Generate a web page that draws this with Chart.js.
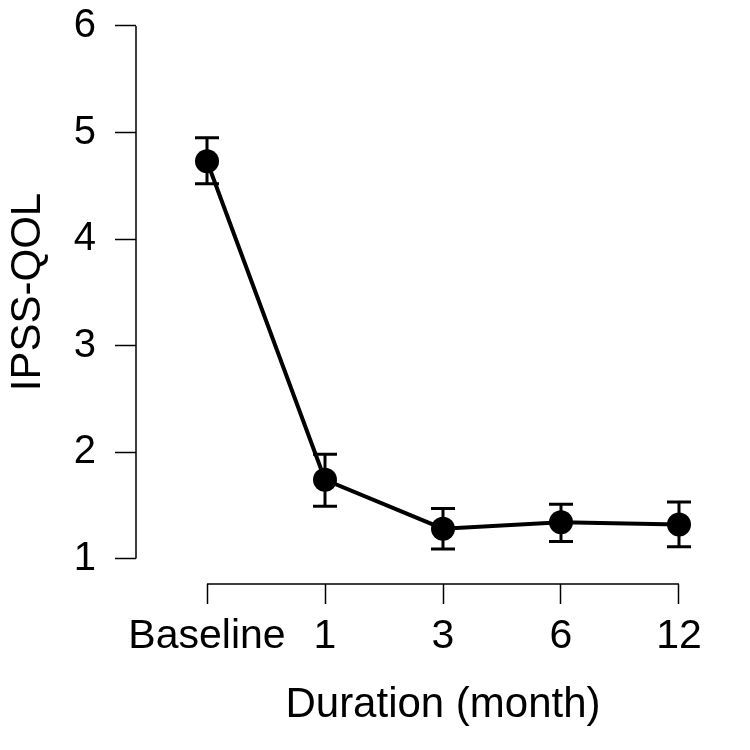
<!DOCTYPE html>
<html>
<head>
<meta charset="utf-8">
<script src="https://cdn.jsdelivr.net/npm/chart.js@4/dist/chart.umd.min.js"></script>
<style>
html, body { margin: 0; padding: 0; background: #fff; overflow: hidden; }
#wrap { width: 750px; height: 750px; position: relative; }
</style>
</head>
<body>
<div id="wrap"><canvas id="c"></canvas></div>
<script>
// ---- data ----
const categories = ["Baseline", "1", "3", "6", "12"];
const meanValues = [4.73, 1.74, 1.28, 1.34, 1.32];
const upperValues = [4.95, 1.98, 1.47, 1.51, 1.53];
const lowerValues = [4.52, 1.49, 1.09, 1.16, 1.11];
const yTickValues = [1, 2, 3, 4, 5, 6];
const yTitle = "IPSS-QOL";
const xTitle = "Duration (month)";

const FONT = "'Liberation Sans', Arial, Helvetica, sans-serif";

const errorBarPlugin = {
  id: 'errorBars',
  beforeDatasetsDraw(chart) {
    const ctx = chart.ctx;
    const xs = chart.scales.x, ys = chart.scales.y;
    ctx.save();
    ctx.strokeStyle = '#000';
    ctx.lineWidth = 3;
    ctx.lineCap = 'butt';
    const cap = 12;
    categories.forEach((c, i) => {
      const x = xs.getPixelForValue(i);
      const yt = ys.getPixelForValue(upperValues[i]);
      const yb = ys.getPixelForValue(lowerValues[i]);
      ctx.beginPath();
      ctx.moveTo(x, yt); ctx.lineTo(x, yb);
      ctx.moveTo(x - cap, yt); ctx.lineTo(x + cap, yt);
      ctx.moveTo(x - cap, yb); ctx.lineTo(x + cap, yb);
      ctx.stroke();
    });
    ctx.restore();
  },
  afterDraw(chart) {
    const ctx = chart.ctx;
    const xs = chart.scales.x, ys = chart.scales.y;
    ctx.save();
    ctx.strokeStyle = '#000';
    ctx.lineWidth = 1.5;
    const ax = chart.chartArea.left;
    ctx.beginPath();
    ctx.moveTo(ax, ys.getPixelForValue(yTickValues[0]));
    ctx.lineTo(ax, ys.getPixelForValue(yTickValues[yTickValues.length - 1]));
    const ay = chart.chartArea.bottom;
    ctx.moveTo(xs.getPixelForValue(0), ay);
    ctx.lineTo(xs.getPixelForValue(categories.length - 1), ay);
    ctx.stroke();
    ctx.restore();
  }
};

new Chart(document.getElementById('c'), {
  type: 'line',
  data: {
    datasets: [{
      data: meanValues.map((v, i) => ({ x: i, y: v })),
      borderColor: '#000',
      backgroundColor: '#000',
      borderWidth: 4,
      pointRadius: 12,
      pointBackgroundColor: '#000',
      pointBorderColor: '#000',
      pointBorderWidth: 0,
      tension: 0,
      clip: false
    }]
  },
  options: {
    responsive: true,
    maintainAspectRatio: false,
    animation: false,
    layout: { padding: 0, autoPadding: false },
    plugins: { legend: { display: false }, tooltip: { enabled: false } },
    scales: {
      x: {
        type: 'linear',
        min: -0.6017,
        max: 4.6017,
        afterBuildTicks: (s) => { s.ticks = categories.map((c, i) => ({ value: i })); },
        afterFit: (s) => { s.height = 166; s.paddingLeft = 0; s.paddingRight = 0; },
        ticks: {
          autoSkip: false,
          maxRotation: 0,
          minRotation: 0,
          padding: 8,
          color: '#000',
          font: { family: FONT, size: 41 },
          callback: (v) => categories[v]
        },
        grid: {
          display: true,
          drawOnChartArea: false,
          drawTicks: true,
          tickLength: 20,
          tickWidth: 1.5,
          tickColor: '#000'
        },
        border: { display: false },
        title: {
          display: true,
          text: xTitle,
          color: '#000',
          font: { family: FONT, size: 42 },
          padding: { top: 0, bottom: 19 }
        }
      },
      y: {
        type: 'linear',
        min: 0.761,
        max: 6.244,
        afterBuildTicks: (s) => { s.ticks = yTickValues.map(v => ({ value: v })); },
        afterFit: (s) => { s.width = 136; s.paddingTop = 0; s.paddingBottom = 0; },
        ticks: {
          padding: 19,
          color: '#000',
          font: { family: FONT, size: 40 },
          callback: (v) => String(v)
        },
        grid: {
          display: true,
          drawOnChartArea: false,
          drawTicks: true,
          tickLength: 21,
          tickWidth: 1.5,
          tickColor: '#000'
        },
        border: { display: false },
        title: {
          display: true,
          text: yTitle,
          color: '#000',
          font: { family: FONT, size: 42 },
          padding: { top: 3, bottom: 0 }
        }
      }
    }
  },
  plugins: [errorBarPlugin]
});
</script>
</body>
</html>
